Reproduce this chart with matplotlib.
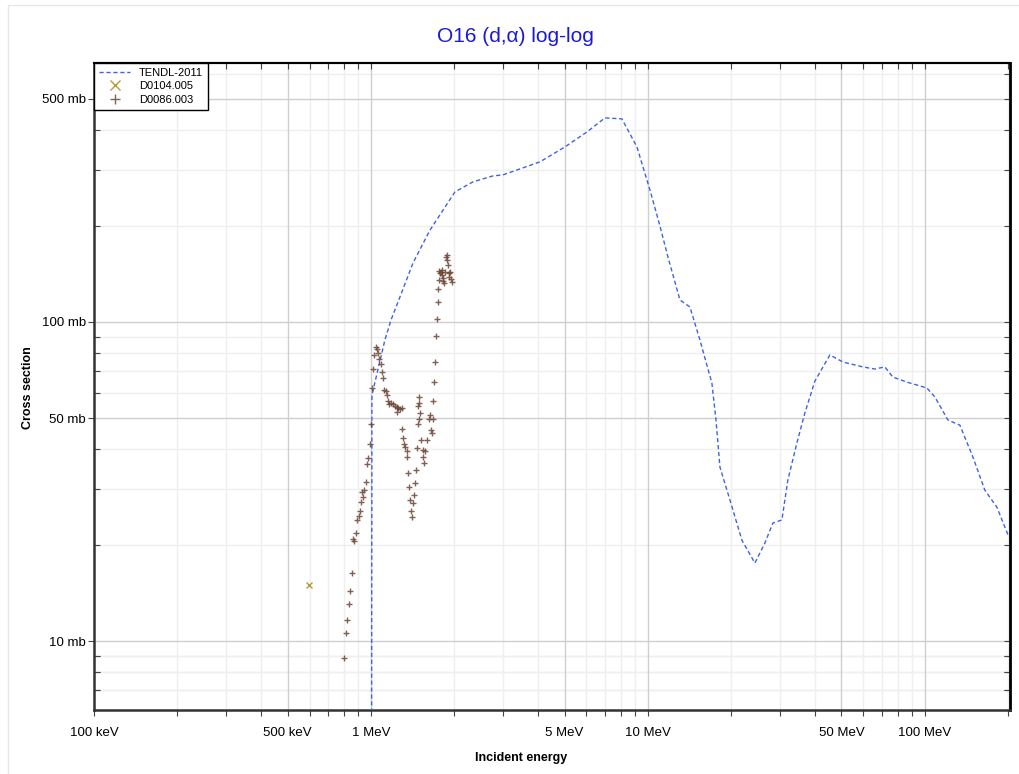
import numpy as np
import matplotlib
matplotlib.use("Agg")
import matplotlib.pyplot as plt
from matplotlib.ticker import FixedLocator, NullFormatter

plt.rcParams['font.family'] = ['Liberation Sans', 'DejaVu Sans']

# TENDL-2011 evaluation (MeV, mb)
tendl_e = [1.0, 1.008, 1.123, 1.181, 1.272, 1.418, 1.633, 2.01, 2.334, 2.757, 2.996,
           4.074, 5.017, 6.024, 6.995, 8.056, 9.128, 10.17, 11.05, 11.81, 13.05,
           14.18, 15.41, 17.02, 17.61, 18.20, 19.77, 21.85, 24.34, 26.45, 28.27,
           30.46, 32.02, 34.51, 36.88, 40.09, 45.4, 50.6, 59.7, 66.0, 71.7, 76.6,
           86.1, 101.7, 108.7, 121.1, 133.8, 149.0, 164.7, 181.9, 201.0]
tendl_xs = [0.1, 59.0, 87.9, 101.4, 119.7, 153.0, 194.0, 255.6, 274.8, 286.9, 289.0,
            317.5, 353.7, 394.0, 436.0, 433.0, 353.7, 259.3, 200.0, 159.9, 117.2,
            111.4, 87.8, 64.4, 49.3, 35.1, 27.7, 20.7, 17.56, 20.29, 23.44,
            23.95, 31.97, 41.76, 51.85, 65.3, 78.8, 74.9, 72.3, 71.2, 72.3, 67.2,
            64.8, 62.1, 58.2, 49.3, 47.5, 37.8, 29.7, 26.3, 21.2]

# EXFOR D0104.005
d0104_e = [0.597]
d0104_xs = [15.0]

# EXFOR D0086.003
d0086_e = [0.801, 0.810, 0.821, 0.831, 0.840, 0.852, 0.859, 0.870, 0.881, 0.888,
           0.905, 0.913, 0.918, 0.928, 0.938, 0.943, 0.957, 0.970, 0.978, 0.992,
           1.003, 1.011, 1.019, 1.028, 1.040, 1.054, 1.063, 1.071, 1.087, 1.098,
           1.108, 1.117, 1.130, 1.139, 1.149, 1.164, 1.178, 1.198, 1.221, 1.238,
           1.255, 1.273, 1.291, 1.244, 1.297, 1.301, 1.315, 1.327, 1.346, 1.352,
           1.364, 1.375, 1.383, 1.414, 1.391, 1.406, 1.430, 1.442, 1.454, 1.462,
           1.474, 1.490, 1.503, 1.481, 1.490, 1.490, 1.512, 1.537, 1.545, 1.553,
           1.566, 1.589, 1.615, 1.633, 1.643, 1.656, 1.670, 1.679, 1.693, 1.702,
           1.717, 1.735, 1.741, 1.750, 1.764, 1.775, 1.764, 1.800, 1.815, 1.834,
           1.824, 1.850, 1.876, 1.866, 1.886, 1.902, 1.913, 1.929, 1.918, 1.940,
           1.956, 1.809, 1.785]
d0086_xs = [8.87, 10.57, 11.64, 13.04, 14.38, 16.37, 20.84, 20.58, 21.76, 23.95,
            24.65, 25.62, 27.34, 29.38, 28.35, 29.74, 31.58, 35.88, 37.39, 41.46,
            47.8, 62.0, 71.1, 78.8, 83.7, 82.1, 80.1, 76.6, 73.7, 69.9,
            66.6, 61.2, 60.8, 59.0, 56.7, 55.3, 55.9, 55.3, 54.5, 54.0,
            53.6, 53.3, 53.6, 52.4, 46.1, 43.2, 41.46, 40.66, 39.5, 37.8,
            33.7, 30.5, 27.7, 27.0, 25.6, 24.4, 28.7, 31.2, 34.4, 40.4,
            47.8, 49.5, 52.0, 54.5, 55.6, 58.1, 42.7, 39.7, 37.8, 36.2,
            39.5, 42.7, 49.5, 51.1, 45.9, 44.8, 49.5, 56.7, 64.7, 75.1,
            90.4, 102.4, 115.8, 126.9, 135.4, 142.1, 144.8, 140.4, 134.7, 132.8,
            137.1, 143.8, 156.5, 159.6, 162.3, 151.0, 142.1, 143.8, 138.7, 136.1,
            133.8, 145.6, 143.8]

x_ticks = [0.1, 0.5, 1, 5, 10, 50, 100]
x_labels = ['100 keV', '500 keV', '1 MeV', '5 MeV', '10 MeV', '50 MeV', '100 MeV']
y_ticks = [10, 50, 100, 500]
y_labels = ['10 mb', '50 mb', '100 mb', '500 mb']

fig = plt.figure(figsize=(10.2, 7.74), dpi=100)
fig.patches.append(plt.Rectangle((0.008, -0.01), 1.0, 1.003, transform=fig.transFigure,
                                 fill=False, edgecolor='#e8e8e8', lw=1))
ax = fig.add_axes([0.0922, 0.0827, 0.8980, 0.8359])
ax.set_xscale('log')
ax.set_yscale('log')
ax.set_xlim(0.1, 203)
ax.set_ylim(6.08, 648)

# grid: major at labelled ticks, minor at the rest of the log subdivisions
minor_x = [m * 10.0 ** k for k in range(-1, 3) for m in range(2, 10)
           if m * 10.0 ** k not in (0.5, 5, 50) and m * 10.0 ** k <= 203]
minor_y = [m * 10.0 ** k for k in range(0, 3) for m in range(2, 10)
           if m * 10.0 ** k not in (50, 500)] + [7, 8, 9]
for v in minor_x:
    ax.axvline(v, color='#efefef', lw=1, zorder=0)
for v in minor_y:
    ax.axhline(v, color='#efefef', lw=1, zorder=0)
for v in x_ticks[1:]:
    ax.axvline(v, color='#cfcfcf', lw=1, zorder=0)
for v in y_ticks:
    ax.axhline(v, color='#cfcfcf', lw=1, zorder=0)

ax.plot(tendl_e, tendl_xs, linestyle=(0, (3, 2)), color='#3d62e6', lw=1,
        label='TENDL-2011', zorder=3)
ax.plot(d0104_e, d0104_xs, linestyle='none', marker='x', color='#b89a3c',
        markersize=5, mew=1, label='D0104.005', zorder=4)
ax.plot(d0086_e, d0086_xs, linestyle='none', marker='+', color='#6b4536',
        markersize=5, mew=1, alpha=0.85, label='D0086.003', zorder=4)

ax.xaxis.set_major_locator(FixedLocator(x_ticks))
ax.set_xticklabels(x_labels)
ax.xaxis.set_minor_locator(FixedLocator(minor_x + [0.5, 5, 50]))
ax.xaxis.set_minor_formatter(NullFormatter())
ax.yaxis.set_major_locator(FixedLocator(y_ticks))
ax.set_yticklabels(y_labels)
ax.yaxis.set_minor_locator(FixedLocator(minor_y))
ax.yaxis.set_minor_formatter(NullFormatter())

tick_col = '#444444'
ax.tick_params(axis='x', which='both', direction='out', length=4, width=0.8,
               labelsize=9.5, color=tick_col, pad=8)
ax.tick_params(axis='y', which='major', direction='out', length=4, width=0.8,
               labelsize=9.5, color=tick_col, pad=2)
ax.tick_params(axis='y', which='minor', direction='in', length=4, width=0.8,
               color=tick_col)

top = ax.secondary_xaxis('top')
top.xaxis.set_major_locator(FixedLocator(x_ticks + minor_x))
top.xaxis.set_minor_locator(FixedLocator([]))
top.tick_params(direction='in', length=4, width=0.8, labeltop=False, color=tick_col)
right = ax.secondary_yaxis('right')
right.yaxis.set_major_locator(FixedLocator(y_ticks + minor_y))
right.yaxis.set_minor_locator(FixedLocator([]))
right.tick_params(direction='in', length=4, width=0.8, labelright=False, color=tick_col)
top.spines['top'].set_linewidth(1.5)
right.spines['right'].set_linewidth(1.8)
right.spines['right'].set_color('#333333')

for side in ['left', 'bottom']:
    ax.spines[side].set_linewidth(1.8)
    ax.spines[side].set_color('#333333')
ax.spines['top'].set_linewidth(1.5)
ax.spines['right'].set_linewidth(1.8)

leg = ax.legend(loc='upper left', borderaxespad=0, fontsize=8, fancybox=False,
                framealpha=1, edgecolor='black', handlelength=2.8, borderpad=0.45,
                labelspacing=0.3, handletextpad=0.8, markerscale=1.5)
leg.get_frame().set_linewidth(1)

fig.text(0.505, 1 - 37 / 774, 'O16 (d,\u03b1) log-log', ha='center', va='center',
         fontsize=15, color='#1a1ad6')
fig.text(0.511, 1 - 758 / 774, 'Incident energy', ha='center', va='center',
         fontsize=9, fontweight='bold')
fig.text(0.027, 1 - 388 / 774, 'Cross section', ha='center', va='center',
         fontsize=9, fontweight='bold', rotation=90)

fig.savefig('out.png', dpi=100)
